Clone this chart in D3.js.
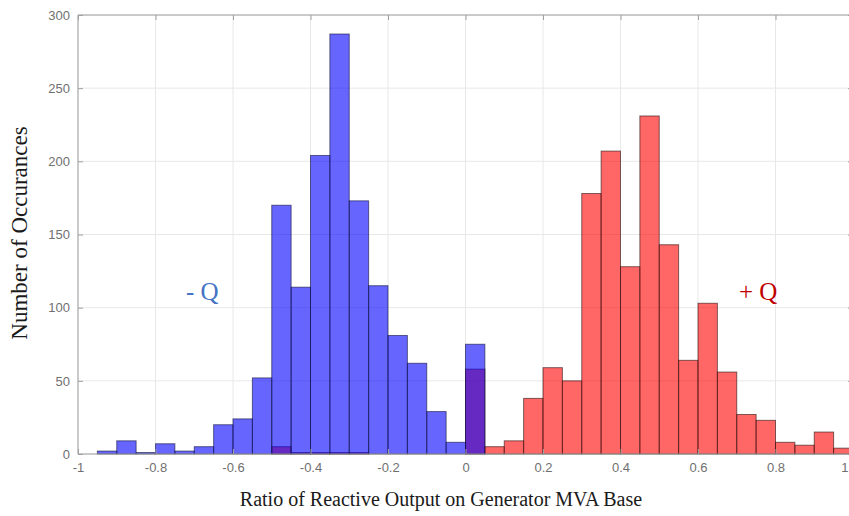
<!DOCTYPE html>
<html>
<head>
<meta charset="utf-8">
<script src="https://cdn.jsdelivr.net/npm/d3@7"></script>
<style>
  html, body { margin: 0; padding: 0; background: #fff; }
  svg { display: block; }
</style>
</head>
<body>
<svg id="chart" width="849" height="516"></svg>
<script>
// ---- data ----
const binStarts = [-0.95,-0.90,-0.85,-0.80,-0.75,-0.70,-0.65,-0.60,-0.55,-0.50,-0.45,-0.40,-0.35,-0.30,-0.25,-0.20,-0.15,-0.10,-0.05,
                   0.00,0.05,0.10,0.15,0.20,0.25,0.30,0.35,0.40,0.45,0.50,0.55,0.60,0.65,0.70,0.75,0.80,0.85,0.90,0.95];
const binWidth = 0.05;
const negQCounts = [2,9,1,7,2,5,20,24,52,170,114,204,287,173,115,81,62,29,8,
                    75,0,0,0,0,0,0,0,0,0,0,0,0,0,0,0,0,0,0,0];
const posQCounts = [0,0,0,0,0,0,0,0,0,5,1,1,1,1,0,0,0,0,0,
                    58,5,9,38,59,50,178,207,128,231,143,64,103,56,27,23,8,6,15,4];
const xTicks = [-1,-0.8,-0.6,-0.4,-0.2,0,0.2,0.4,0.6,0.8,1];
const xTickLabels = ["-1","-0.8","-0.6","-0.4","-0.2","0","0.2","0.4","0.6","0.8","1"];
const yTicks = [0,50,100,150,200,250,300];
const xTitle = "Ratio of Reactive Output on Generator MVA Base";
const yTitle = "Number of Occurances";
const negLabel = "- Q";
const posLabel = "+ Q";

// ---- layout ----
const W = 849;
const svg = d3.select("#chart");
const L = 78, R = 853, T = 15, B = 454;
const x = d3.scaleLinear().domain([-1, 1]).range([L, R]);
const y = d3.scaleLinear().domain([0, 300]).range([B, T]);

// grid
const grid = svg.append("g");
grid.selectAll("line.gx").data(xTicks).join("line")
  .attr("x1", d => x(d)).attr("x2", d => x(d)).attr("y1", T).attr("y2", B)
  .attr("stroke", "#e8e8e8").attr("stroke-width", 1);
grid.selectAll("line.gy").data(yTicks).join("line")
  .attr("x1", L).attr("x2", R).attr("y1", d => y(d)).attr("y2", d => y(d))
  .attr("stroke", "#e8e8e8").attr("stroke-width", 1);

// bars: red first, blue over it
function drawHist(counts, fill, stroke) {
  const data = binStarts.map((s, i) => ({ s, c: counts[i] })).filter(d => d.c > 0);
  svg.append("g").selectAll("rect").data(data).join("rect")
    .attr("x", d => x(d.s))
    .attr("width", d => x(d.s + binWidth) - x(d.s))
    .attr("y", d => y(d.c))
    .attr("height", d => y(0) - y(d.c))
    .attr("fill", fill).attr("fill-opacity", 0.6)
    .attr("stroke", stroke).attr("stroke-opacity", 0.6).attr("stroke-width", 1);
}
drawHist(posQCounts, "#ff0000", "#2a1010");
drawHist(negQCounts, "#0000ff", "#10103a");

// axes (box style, inward ticks)
const axisColor = "#a0a0a0";
const ax = svg.append("g");
ax.append("line").attr("x1", L).attr("x2", L).attr("y1", T).attr("y2", B).attr("stroke", axisColor);
ax.append("line").attr("x1", L).attr("x2", R).attr("y1", T).attr("y2", T).attr("stroke", axisColor);
ax.append("line").attr("x1", L).attr("x2", R).attr("y1", B).attr("y2", B).attr("stroke", axisColor);
ax.append("line").attr("x1", R).attr("x2", R).attr("y1", T).attr("y2", B).attr("stroke", axisColor);

const xAxis = d3.axisBottom(x).tickValues(xTicks).tickSize(-5).tickPadding(9)
  .tickFormat((d, i) => xTickLabels[i]);
const gx = svg.append("g").attr("transform", `translate(0,${B})`).call(xAxis);
const gxTop = svg.append("g").attr("transform", `translate(0,${T})`)
  .call(d3.axisTop(x).tickValues(xTicks).tickSize(-5).tickFormat(""));
const yAxis = d3.axisLeft(y).tickValues(yTicks).tickSize(-5).tickPadding(8);
const gy = svg.append("g").attr("transform", `translate(${L},0)`).call(yAxis);
const gyR = svg.append("g").attr("transform", `translate(${R},0)`)
  .call(d3.axisRight(y).tickValues(yTicks).tickSize(-5).tickFormat(""));
[gx, gxTop, gy, gyR].forEach(g => {
  g.select(".domain").remove();
  g.selectAll(".tick line").attr("stroke", axisColor);
  g.selectAll("text").attr("fill", "#707070")
    .style("font-family", "'Liberation Sans', Arial, sans-serif").style("font-size", "13px");
});
// keep the last x tick label ("1") inside the canvas
gx.selectAll(".tick text").filter(d => x(d) + 4 > W)
  .attr("text-anchor", "end").attr("x", d => (W - 1) - x(d));

// titles
svg.append("text").attr("x", 441).attr("y", 506).attr("text-anchor", "middle")
  .style("font-family", "'Liberation Serif', 'Times New Roman', serif").style("font-size", "20px")
  .attr("fill", "#1a1a1a").text(xTitle);
svg.append("text").attr("transform", "translate(27,233) rotate(-90)").attr("text-anchor", "middle")
  .style("font-family", "'Liberation Serif', 'Times New Roman', serif").style("font-size", "23px")
  .attr("fill", "#1a1a1a").text(yTitle);

// annotations
svg.append("text").attr("x", 186).attr("y", 300)
  .style("font-family", "'Liberation Serif', 'Times New Roman', serif").style("font-size", "25px")
  .attr("fill", "#4472c4").text(negLabel);
svg.append("text").attr("x", 739).attr("y", 300)
  .style("font-family", "'Liberation Serif', 'Times New Roman', serif").style("font-size", "25px")
  .attr("fill", "#c00000").text(posLabel);
</script>
</body>
</html>
